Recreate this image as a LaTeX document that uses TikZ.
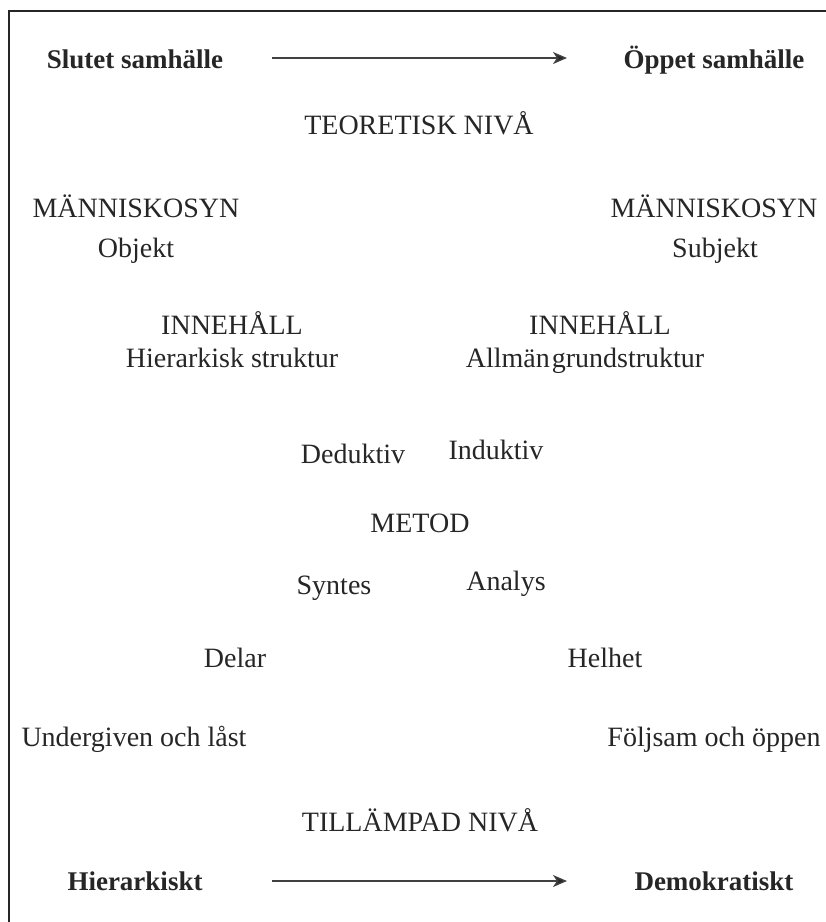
\documentclass[tikz,border=0pt]{standalone}
\usepackage{fontspec}
\setmainfont{Liberation Serif}
\usetikzlibrary{arrows.meta}
\begin{document}
\begin{tikzpicture}[x=1pt,y=-1pt,
  lbl/.style={anchor=base,inner sep=0pt,text=black!85,font=\fontsize{28}{32}\selectfont},
  blbl/.style={anchor=base,inner sep=0pt,text=black!85,font=\fontsize{27}{32}\selectfont\bfseries},
  arr/.style={line width=1.4pt,draw=black!75,-{Stealth[length=14pt,width=12pt,inset=4pt,fill=black!85]}},
  frame/.style={line width=1.5pt,draw=black!85}]
\useasboundingbox (0,0) rectangle (826,922);
\begin{scope}
\clip (0,0) rectangle (826,922);
\draw[frame] (9,11) rectangle (860,960);
\end{scope}
% top row
\node[blbl] (slutet) at (135,68) {Slutet samhälle};
\node[blbl] (oppet) at (714,68) {Öppet samhälle};
\coordinate (a1s) at (272,58);
\coordinate (a1e) at (567,58);
\draw[arr] (a1s) -- (a1e);
\node[lbl] (teo) at (419,134) {TEORETISK NIVÅ};
% människosyn
\node[lbl] (mL) at (136,217) {MÄNNISKOSYN};
\node[lbl] (obj) at (136,257) {Objekt};
\node[lbl] (mR) at (714,217) {MÄNNISKOSYN};
\node[lbl] (subj) at (715,257) {Subjekt};
% innehåll
\node[lbl] (iL) at (232,334) {INNEHÅLL};
\node[lbl] (hier) at (232,367) {Hierarkisk struktur};
\node[lbl] (iR) at (600,334) {INNEHÅLL};
\node[lbl] (allm) at (585,367) {Allmän\hspace{2pt}grundstruktur};
% metod
\node[lbl] (ded) at (353,463) {Deduktiv};
\node[lbl] (ind) at (496,459) {Induktiv};
\node[lbl] (metod) at (420,532) {METOD};
\node[lbl] (synt) at (334,594) {Syntes};
\node[lbl] (anal) at (506,590) {Analys};
\node[lbl] (delar) at (235,667) {Delar};
\node[lbl] (helhet) at (605,667) {Helhet};
\node[lbl] (underg) at (134,746) {Undergiven och låst};
\node[lbl] (foljs) at (714,746) {Följsam och öppen};
\node[lbl] (till) at (420,831) {TILLÄMPAD NIVÅ};
% bottom row
\node[blbl] (hierk) at (135,890) {Hierarkiskt};
\node[blbl] (demo) at (714,890) {Demokratiskt};
\coordinate (a2s) at (272,881);
\coordinate (a2e) at (567,881);
\draw[arr] (a2s) -- (a2e);
\end{tikzpicture}
\end{document}
